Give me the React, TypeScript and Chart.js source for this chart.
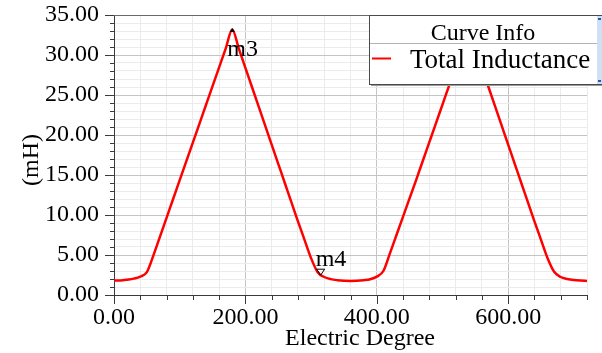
import React, { useEffect, useRef } from 'react';
import { Chart, registerables } from 'chart.js';

Chart.register(...registerables);

// Electric angle (deg) and total winding inductance (mH)
const degrees = [
  0, 10, 20, 30, 40, 50, 60, 70, 80, 90, 100, 110, 120, 130, 140, 150, 160, 170, 180,
  190, 200, 210, 220, 230, 240, 250, 260, 270, 280, 290, 300, 310, 320, 330, 340, 350, 360,
  370, 380, 390, 400, 410, 420, 430, 440, 450, 460, 470, 480, 490, 500, 510, 520, 530, 540,
  550, 560, 570, 580, 590, 600, 610, 620, 630, 640, 650, 660, 670, 680, 690, 700, 710, 720,
];
const inductance = [
  1.8, 1.82, 1.92, 2.05, 2.3, 2.85, 4.95, 7.3, 9.65, 12.0, 14.35, 16.7, 19.05, 21.4, 23.75, 26.1, 28.45, 30.8, 33.2,
  30.8, 28.4, 26.0, 23.6, 21.2, 18.8, 16.4, 14.0, 11.6, 9.2, 6.9, 4.6, 2.85, 2.25, 1.98, 1.85, 1.78, 1.76,
  1.78, 1.85, 1.97, 2.3, 3.0, 5.2, 7.5, 9.8, 12.1, 14.4, 16.75, 19.1, 21.45, 23.8, 26.15, 28.5, 30.85, 33.2,
  30.8, 28.4, 26.0, 23.6, 21.2, 18.8, 16.4, 14.0, 11.6, 9.2, 6.9, 4.6, 2.9, 2.25, 2.0, 1.87, 1.8, 1.76,
];

// Labelled tick values
const xLabelValues = [0, 200, 400, 600];
const yLabelValues = [0, 5, 10, 15, 20, 25, 30, 35];

// Named markers placed on the curve
const markerNames = ['m3', 'm4'];
const markerDegrees = [180, 310];

const seriesName = 'Total Inductance';
const legendTitle = 'Curve Info';
const xTitle = 'Electric Degree';
const yTitle = '(mH)';

const FONT = '"Liberation Serif", "Times New Roman", serif';

const overlayPlugin = {
  id: 'overlay',
  afterDraw(chart: any) {
    const { ctx, chartArea, scales } = chart;
    const xs = scales.x;
    const ys = scales.y;
    const { left, right, top, bottom } = chartArea;

    ctx.save();

    // top frame line
    ctx.strokeStyle = '#6a6a6a';
    ctx.lineWidth = 1;
    ctx.beginPath();
    ctx.moveTo(left, top + 0.5);
    ctx.lineTo(right, top + 0.5);
    ctx.stroke();

    // tick marks (longer on labelled ticks)
    ctx.strokeStyle = '#3a3a3a';
    ctx.beginPath();
    xs.ticks.forEach((t: any) => {
      const px = Math.round(xs.getPixelForValue(t.value)) + 0.5;
      const len = xLabelValues.includes(t.value) ? 9 : 5;
      ctx.moveTo(px, bottom);
      ctx.lineTo(px, bottom + len);
    });
    ys.ticks.forEach((t: any) => {
      const py = Math.round(ys.getPixelForValue(t.value)) + 0.5;
      const len = yLabelValues.includes(t.value) ? 9 : 4;
      ctx.moveTo(left, py);
      ctx.lineTo(left - len, py);
    });
    ctx.stroke();

    // markers
    markerNames.forEach((name, i) => {
      const idx = degrees.indexOf(markerDegrees[i]);
      const px = xs.getPixelForValue(degrees[idx]);
      const py = ys.getPixelForValue(inductance[idx]);
      ctx.strokeStyle = '#000';
      ctx.lineWidth = 1;
      ctx.beginPath();
      if (i === 0) {
        ctx.moveTo(px - 2.5, py + 2.5);
        ctx.lineTo(px, py - 1.5);
        ctx.lineTo(px + 2.5, py + 2.5);
        ctx.closePath();
        ctx.fillStyle = '#000';
        ctx.fill();
      } else {
        ctx.moveTo(px - 1, py - 3);
        ctx.lineTo(px + 7, py - 3);
        ctx.lineTo(px + 3, py + 3);
        ctx.closePath();
        ctx.stroke();
      }
      ctx.fillStyle = '#000';
      ctx.font = `24px ${FONT}`;
      ctx.textAlign = 'left';
      ctx.textBaseline = 'alphabetic';
      if (i === 0) ctx.fillText(name, px - 5, py + 27);
      else ctx.fillText(name, px - 2, py - 6);
    });

    // axis titles
    ctx.fillStyle = '#000';
    ctx.font = `24px ${FONT}`;
    ctx.textAlign = 'center';
    ctx.textBaseline = 'alphabetic';
    ctx.fillText(xTitle, 360, 345);
    ctx.save();
    ctx.translate(38, 160);
    ctx.rotate(-Math.PI / 2);
    ctx.fillText(yTitle, 0, 0);
    ctx.restore();

    // legend box
    const bx = 369;
    const by = top;
    const bw = 250;
    const bh = 84 - top;
    ctx.fillStyle = '#9a9a9a';
    ctx.fillRect(bx + 2, by + 2, bw, bh);
    ctx.fillStyle = '#ffffff';
    ctx.fillRect(bx, by, bw, bh);
    ctx.strokeStyle = '#4a4a4a';
    ctx.lineWidth = 1;
    ctx.strokeRect(bx + 0.5, by + 0.5, bw, bh);
    // scroll strip
    ctx.fillStyle = '#cfe0f4';
    ctx.fillRect(597, by + 1, 6, bh - 1);
    ctx.fillStyle = '#2a5aa8';
    ctx.fillRect(598, by + 3, 3, 2);
    ctx.fillRect(598, by + bh - 4, 3, 2);
    // separator
    ctx.strokeStyle = '#b4b4b4';
    ctx.beginPath();
    ctx.moveTo(bx + 1, 43.5);
    ctx.lineTo(597, 43.5);
    ctx.stroke();
    // texts
    ctx.fillStyle = '#000';
    ctx.font = `24px ${FONT}`;
    ctx.textAlign = 'center';
    ctx.fillText(legendTitle, 483, 40);
    ctx.font = `27px ${FONT}`;
    ctx.textAlign = 'left';
    ctx.fillText(seriesName, 410, 68);
    ctx.strokeStyle = '#ff0000';
    ctx.lineWidth = 2;
    ctx.beginPath();
    ctx.moveTo(372, 58.5);
    ctx.lineTo(391, 58.5);
    ctx.stroke();

    ctx.restore();
  },
};

export default function App() {
  const canvasRef = useRef<HTMLCanvasElement | null>(null);

  useEffect(() => {
    const canvas = canvasRef.current;
    if (!canvas) return;

    const chart = new Chart(canvas, {
      type: 'line',
      data: {
        datasets: [
          {
            label: seriesName,
            data: degrees.map((d, i) => ({ x: d, y: inductance[i] })),
            borderColor: '#ff0000',
            borderWidth: 2.5,
            pointRadius: 0,
            cubicInterpolationMode: 'monotone',
            fill: false,
          },
        ],
      },
      options: {
        responsive: false,
        animation: false,
        events: [],
        layout: { padding: { top: 15, right: 15, left: 0, bottom: 0 } },
        plugins: {
          legend: { display: false },
          tooltip: { enabled: false },
          title: { display: false },
        },
        scales: {
          x: {
            type: 'linear',
            min: 0,
            max: 720,
            afterFit: (s: any) => {
              s.height = 58;
              s.paddingLeft = 0;
              s.paddingRight = 0;
            },
            ticks: {
              stepSize: 40,
              autoSkip: false,
              maxRotation: 0,
              padding: 8,
              color: '#000',
              font: { family: FONT, size: 24 },
              callback: (v: any) => (xLabelValues.includes(Number(v)) ? Number(v).toFixed(2) : ''),
            },
            grid: {
              drawTicks: false,
              color: (c: any) => (xLabelValues.includes(c.tick?.value) ? '#c4c4c4' : '#ebebeb'),
              lineWidth: 1,
            },
            border: { display: true, color: '#3a3a3a', width: 1 },
          },
          y: {
            type: 'linear',
            min: 0,
            max: 35,
            afterFit: (s: any) => {
              s.width = 114;
              s.paddingTop = 0;
              s.paddingBottom = 0;
            },
            ticks: {
              stepSize: 1,
              autoSkip: false,
              maxTicksLimit: 100,
              padding: 15,
              color: '#000',
              font: { family: FONT, size: 24 },
              callback: (v: any) => (yLabelValues.includes(Number(v)) ? Number(v).toFixed(2) : ''),
            },
            grid: {
              drawTicks: false,
              color: (c: any) => (yLabelValues.includes(c.tick?.value) ? '#c4c4c4' : '#ebebeb'),
              lineWidth: 1,
            },
            border: { display: true, color: '#3a3a3a', width: 1 },
          },
        },
      },
      plugins: [overlayPlugin],
    });

    return () => chart.destroy();
  }, []);

  return (
    <div style={{ position: 'absolute', left: 0, top: 0, width: 602, height: 353, background: '#fff' }}>
      <canvas ref={canvasRef} width={602} height={353} />
    </div>
  );
}
